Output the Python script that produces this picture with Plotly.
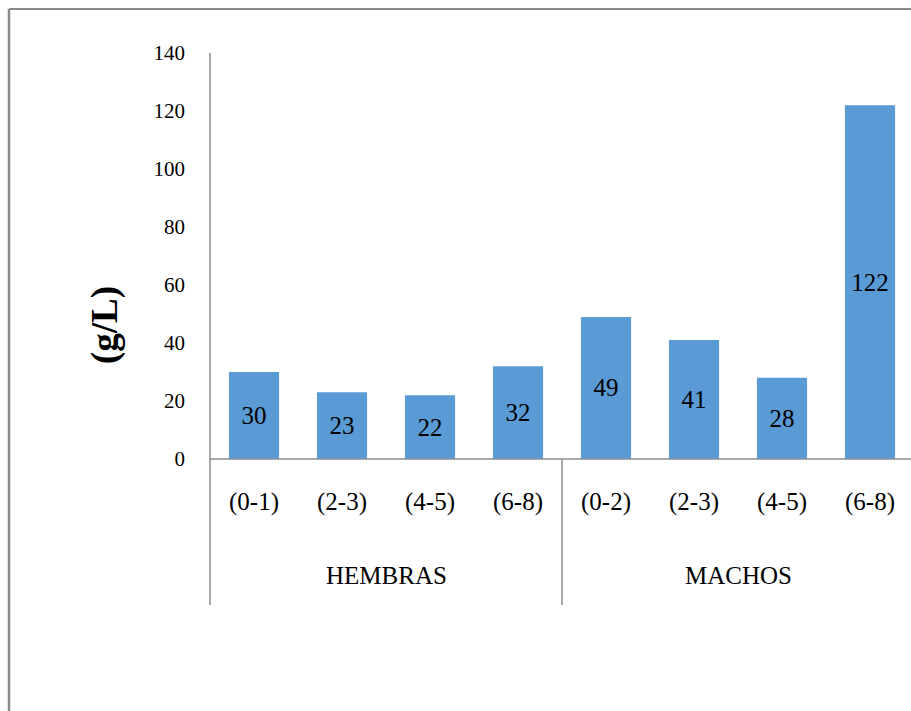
import plotly.graph_objects as go

# Concentration (g/L) by age range and sex
groups = ["HEMBRAS", "MACHOS"]
age_ranges = ["(0-1)", "(2-3)", "(4-5)", "(6-8)", "(0-2)", "(2-3)", "(4-5)", "(6-8)"]
group_of = [0, 0, 0, 0, 1, 1, 1, 1]
values = [30, 23, 22, 32, 49, 41, 28, 122]
y_ticks = [0, 20, 40, 60, 80, 100, 120, 140]

W, H = 911, 711
BAR = "#5B9BD5"
LINE = "#8C8C8C"
FONT = "Liberation Serif"

# plot-area placement in pixels
left_px, right_px = 210, 914
top_px, base_px = 53, 459


def px(x):
    return x / W


def py(y):
    return 1 - y / H


positions = list(range(len(values)))

fig = go.Figure(
    go.Bar(
        x=positions,
        y=values,
        marker_color=BAR,
        marker_line_width=0,
        width=0.57,
        text=[str(v) for v in values],
        textposition="inside",
        insidetextanchor="middle",
        textangle=0,
        textfont=dict(family=FONT, size=25, color="black"),
        cliponaxis=False,
    )
)

fig.update_layout(
    width=W,
    height=H,
    margin=dict(l=0, r=0, t=0, b=0, pad=0),
    paper_bgcolor="white",
    plot_bgcolor="white",
    showlegend=False,
    xaxis=dict(
        domain=[px(left_px), 1],
        range=[-0.5, -0.5 + 8 * (W - left_px) / (right_px - left_px)],
        showticklabels=False,
        showgrid=False,
        zeroline=False,
        showline=False,
        ticks="",
        automargin=False,
    ),
    yaxis=dict(
        domain=[py(base_px), py(top_px)],
        range=[0, 140],
        tickvals=y_ticks,
        ticktext=[str(t) for t in y_ticks],
        tickfont=dict(family=FONT, size=21, color="black"),
        ticks="",
        ticklabelstandoff=24,
        showgrid=False,
        zeroline=False,
        showline=False,
        automargin=False,
    ),
)

shapes = []
# outer frame (top and left edges)
shapes.append(dict(type="line", xref="paper", yref="paper", x0=px(9), x1=1, y0=py(9), y1=py(9),
                   line=dict(color="#8A8A8A", width=2)))
shapes.append(dict(type="line", xref="paper", yref="paper", x0=px(9), x1=px(9), y0=py(9), y1=0,
                   line=dict(color="#8A8A8A", width=2.5)))
# value axis line extended through the category label rows
shapes.append(dict(type="line", xref="paper", yref="paper", x0=px(left_px), x1=px(left_px),
                   y0=py(top_px), y1=py(605), line=dict(color=LINE, width=1.5)))
# category baseline
shapes.append(dict(type="line", xref="paper", yref="paper", x0=px(left_px), x1=1,
                   y0=py(base_px), y1=py(base_px), line=dict(color=LINE, width=1.5)))
# divider between the two groups
shapes.append(dict(type="line", xref="x", yref="paper", x0=3.5, x1=3.5,
                   y0=py(base_px), y1=py(605), line=dict(color=LINE, width=1.5)))
fig.update_layout(shapes=shapes)

annotations = []
for i, lab in enumerate(age_ranges):
    annotations.append(dict(x=i, y=py(502), xref="x", yref="paper", text=lab, showarrow=False,
                            font=dict(family=FONT, size=25, color="black"),
                            xanchor="center", yanchor="middle"))
for g, name in enumerate(groups):
    idx = [i for i, gg in enumerate(group_of) if gg == g]
    center = sum(idx) / len(idx)
    annotations.append(dict(x=center, y=py(575), xref="x", yref="paper", text=name, showarrow=False,
                            font=dict(family=FONT, size=25, color="black"),
                            xanchor="center", yanchor="middle"))
annotations.append(dict(x=px(105), y=py(325), xref="paper", yref="paper", text="<b>(g/L)</b>",
                        showarrow=False, textangle=-90,
                        font=dict(family=FONT, size=37, color="black"),
                        xanchor="center", yanchor="middle"))
fig.update_layout(annotations=annotations)

fig.write_html("out.html")
